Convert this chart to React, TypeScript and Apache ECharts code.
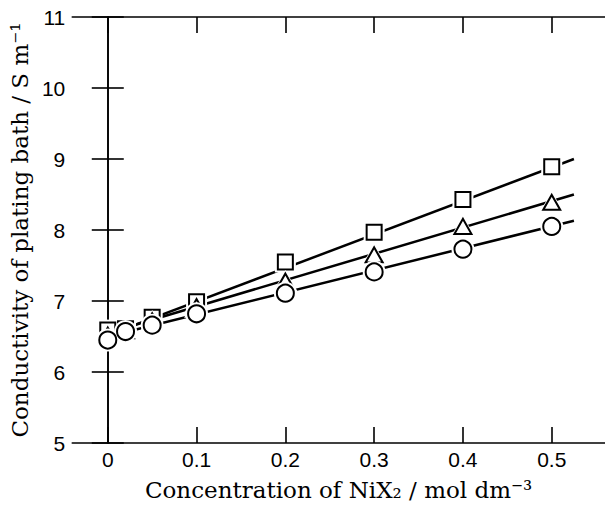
import React, { useEffect, useRef } from "react";
import * as echarts from "echarts";

// Concentration of NiX2 (mol dm-3)
const concentrations = [0, 0.02, 0.05, 0.1, 0.2, 0.3, 0.4, 0.5];
// Conductivity (S m-1) for the three series
const squareValues = [6.59, 6.61, 6.77, 6.99, 7.55, 7.97, 8.43, 8.89];
const triangleValues = [6.52, 6.58, 6.72, 6.92, 7.28, 7.65, 8.05, 8.39];
const circleValues = [6.45, 6.57, 6.66, 6.82, 7.11, 7.41, 7.73, 8.05];
// Fitted straight lines: [start, end]
const squareFit = [[0, 6.52], [0.525, 9.0]];
const triangleFit = [[0, 6.55], [0.525, 8.5]];
const circleFit = [[0, 6.5], [0.525, 8.13]];
// Tick values
const xTicks = [0, 0.1, 0.2, 0.3, 0.4, 0.5];
const xTickLabels = ["0", "0.1", "0.2", "0.3", "0.4", "0.5"];

const pairs = (ys: number[]) => concentrations.map((x, i) => [x, ys[i]]);

export default function App() {
  const ref = useRef<HTMLDivElement>(null);
  useEffect(() => {
    if (!ref.current) return;
    const chart = echarts.init(ref.current, null, { renderer: "svg" });
    const black = "#000";
    const tickFont = { fontFamily: "Liberation Sans", fontSize: 21, color: black };
    const titleFont = { fontFamily: "DejaVu Serif", fontSize: 23, color: black };
    const axisLine = { show: true, lineStyle: { color: black, width: 1.6 } };
    const tick = { show: true, inside: true, length: 16, lineStyle: { color: black, width: 1.6 } };

    const markerSeries = (name: string, data: number[][], symbol: string, size: any, halo: any, z: number) => [
      {
        name: name + "-halo",
        type: "scatter",
        data,
        symbol,
        symbolSize: halo,
        z,
        silent: true,
        itemStyle: { color: "#fff", borderWidth: 0, opacity: 1 },
      },
      {
        name,
        type: "scatter",
        data,
        symbol,
        symbolSize: size,
        z: z + 1,
        itemStyle: { color: "#fff", borderColor: black, borderWidth: 2, opacity: 1 },
      },
    ];
    const fitSeries = (name: string, data: number[][]) => ({
      name,
      type: "line",
      data,
      symbol: "none",
      z: 1,
      lineStyle: { color: black, width: 2.5 },
    });

    chart.setOption({
      animation: false,
      backgroundColor: "#fff",
      grid: { left: 69, top: 17, width: 544, height: 435, containLabel: false },
      xAxis: [
        {
          type: "value",
          position: "bottom",
          min: -0.04,
          max: 0.56,
          axisLine,
          axisTick: { ...tick, customValues: xTicks },
          axisLabel: {
            ...tickFont,
            margin: 6,
            customValues: xTicks,
            formatter: (v: number) => {
              const i = xTicks.findIndex((t) => Math.abs(t - v) < 1e-9);
              return i >= 0 ? xTickLabels[i] : "";
            },
          },
          splitLine: { show: false },
          name: "Concentration of NiX\u2082 / mol dm\u207B\u00B3",
          nameLocation: "middle",
          nameGap: 35,
          nameTextStyle: titleFont,
        },
        {
          type: "value",
          position: "top",
          min: -0.04,
          max: 0.56,
          axisLine,
          axisTick: { ...tick, customValues: xTicks },
          axisLabel: { show: false },
          splitLine: { show: false },
        },
      ],
      yAxis: [
        {
          type: "value",
          position: "left",
          min: 5,
          max: 11,
          interval: 1,
          axisLine,
          axisTick: tick,
          axisLabel: { ...tickFont, margin: 7 },
          splitLine: { show: false },
          name: "Conductivity of plating bath / S m\u207B\u00B9",
          nameLocation: "middle",
          nameGap: 37,
          nameTextStyle: titleFont,
        },
        {
          type: "value",
          position: "right",
          min: 5,
          max: 11,
          interval: 1,
          axisLine,
          axisTick: tick,
          axisLabel: { show: false },
          splitLine: { show: false },
        },
      ],
      series: [
        fitSeries("square-fit", squareFit),
        fitSeries("triangle-fit", triangleFit),
        fitSeries("circle-fit", circleFit),
        ...markerSeries("square", pairs(squareValues), "rect", 15, 21, 2),
        ...markerSeries("triangle", pairs(triangleValues), "triangle", [17, 15], [25, 22], 4),
        ...markerSeries("circle", pairs(circleValues), "circle", 17, 23, 6),
      ],
    });
    return () => chart.dispose();
  }, []);
  return (
    <div
      ref={ref}
      style={{ position: "fixed", left: 0, top: 0, width: 605, height: 506, background: "#fff" }}
    />
  );
}
